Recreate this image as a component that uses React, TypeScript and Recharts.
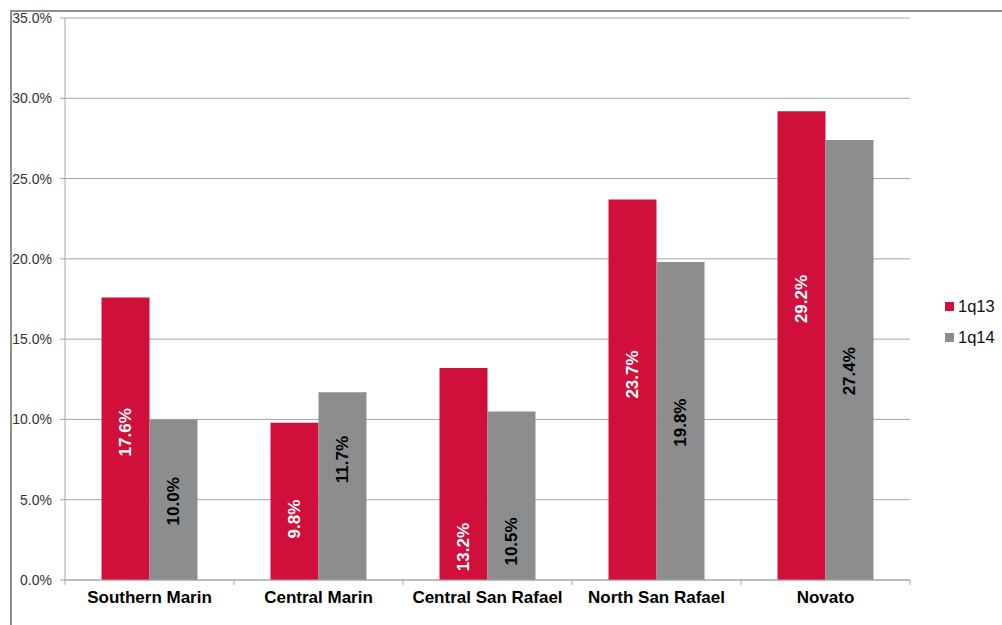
import React from 'react';
import { BarChart, Bar, XAxis, YAxis, CartesianGrid, LabelList } from 'recharts';

const regions = ['Southern Marin', 'Central Marin', 'Central San Rafael', 'North San Rafael', 'Novato'];
const q13 = [17.6, 9.8, 13.2, 23.7, 29.2];
const q14 = [10.0, 11.7, 10.5, 19.8, 27.4];
// where each data label sits along its bar, in axis units (hand-placed in the original)
const q13LabelAt = [9.2, 3.8, 2.05, 12.8, 17.5];
const q14LabelAt = [4.9, 7.5, 2.4, 9.8, 13.0];
const seriesNames = ['1q13', '1q14'];
const yTicks = [0, 5, 10, 15, 20, 25, 30, 35];

const RED = '#D0103A';
const GRAY = '#8B8D8F';
const GRID = '#A6A6A6';
const FONT = '"Liberation Sans", Arial, sans-serif';

const chartData = regions.map((name, i) => ({ name, q13: q13[i], q14: q14[i] }));

const PLOT_LEFT = 65;
const PLOT_RIGHT = 910;
const BAND = (PLOT_RIGHT - PLOT_LEFT) / regions.length;

const CategoryTick = ({ x, y, payload, index }: any) => {
  const half = BAND / 2;
  return (
    <g>
      <line x1={x - half} y1={y - 8} x2={x - half} y2={y - 3} stroke={GRID} />
      {index === regions.length - 1 && (
        <line x1={x + half} y1={y - 8} x2={x + half} y2={y - 3} stroke={GRID} />
      )}
      <text x={x} y={y + 15} textAnchor="middle" fontFamily={FONT} fontSize={17} fontWeight="bold" fill="#000">
        {payload.value}
      </text>
    </g>
  );
};

const makeLabel = (color: string, anchors: number[]) => (props: any) => {
  const { x, y, width, height, value, index } = props;
  const pxPerUnit = height / Number(value);
  const cx = x + width / 2;
  const cy = y + height - anchors[index] * pxPerUnit;
  return (
    <text
      x={cx}
      y={cy}
      transform={`rotate(-90, ${cx}, ${cy})`}
      textAnchor="middle"
      dominantBaseline="central"
      fontFamily={FONT}
      fontSize={17}
      fontWeight="bold"
      fill={color}
    >
      {Number(value).toFixed(1)}%
    </text>
  );
};

const App: React.FC = () => {
  return (
    <div style={{ position: 'absolute', left: 0, top: 0, width: 1002, height: 625, background: '#fff', overflow: 'hidden' }}>
      <div style={{ position: 'absolute', left: 10, top: 10, width: 1100, height: 700, borderTop: '2px solid #8f8f8f', borderLeft: '2px solid #8f8f8f' }} />
      <div style={{ position: 'absolute', left: 0, top: 0 }}>
        <BarChart
          width={1002}
          height={625}
          data={chartData}
          margin={{ top: 18, right: 92, left: 0, bottom: 15 }}
          barCategoryGap="21.6%"
          barGap={0}
        >
          <CartesianGrid vertical={false} stroke={GRID} strokeWidth={1} />
          <XAxis
            dataKey="name"
            height={30}
            axisLine={{ stroke: GRID }}
            tickLine={false}
            tick={<CategoryTick />}
            interval={0}
          />
          <YAxis
            width={65}
            domain={[0, 35]}
            ticks={yTicks}
            tickFormatter={(v: number) => `${v.toFixed(1)}%`}
            axisLine={{ stroke: GRID }}
            tickLine={{ stroke: GRID }}
            tickSize={5}
            tickMargin={8}
            tick={{ fontFamily: FONT, fontSize: 14, fill: '#333' }}
            interval={0}
          />
          <Bar dataKey="q13" name={seriesNames[0]} fill={RED} isAnimationActive={false}>
            <LabelList dataKey="q13" content={makeLabel('#fff', q13LabelAt)} />
          </Bar>
          <Bar dataKey="q14" name={seriesNames[1]} fill={GRAY} isAnimationActive={false}>
            <LabelList dataKey="q14" content={makeLabel('#000', q14LabelAt)} />
          </Bar>
        </BarChart>
      </div>
      <div style={{ position: 'absolute', left: 945, top: 291, fontFamily: FONT, fontSize: 16.5, color: '#111', lineHeight: '31px' }}>
        {seriesNames.map((s, i) => (
          <div key={s} style={{ display: 'flex', alignItems: 'center' }}>
            <span style={{ display: 'inline-block', width: 9, height: 9, background: i === 0 ? RED : GRAY, marginRight: 4 }} />
            <span>{s}</span>
          </div>
        ))}
      </div>
    </div>
  );
};

export default App;
